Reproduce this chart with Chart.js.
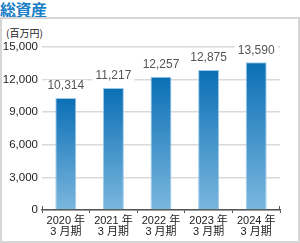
<!DOCTYPE html>
<html>
<head>
<meta charset="utf-8">
<script src="https://cdn.jsdelivr.net/npm/chart.js@4/dist/chart.umd.min.js"></script>
<style>
  html, body { margin: 0; padding: 0; background: #fff; }
  #wrap { position: relative; width: 300px; height: 243px; overflow: hidden; }
  #title {
    position: absolute; left: 0; top: -3px;
    font-family: 'Noto Sans CJK JP', sans-serif; font-weight: 700;
    font-size: 16px; color: #1a7fc6; letter-spacing: -0.5px;
  }
  #box {
    position: absolute; left: 0; top: 17px; width: 296px; height: 222px;
    border: 2px solid #d6d6d6;
  }
  #unit {
    position: absolute; left: 6px; top: 25px;
    font-family: 'Noto Sans CJK JP', sans-serif; font-size: 10px; color: #222;
  }
  canvas { position: absolute; left: 0; top: 0; }
</style>
</head>
<body>
<div id="wrap">
  <div id="title">総資産</div>
  <div id="box"></div>
  <div id="unit">(百万円)</div>
  <canvas id="chart" width="300" height="243"></canvas>
</div>
<script>
const years = ['2020 年', '2021 年', '2022 年', '2023 年', '2024 年'];
const periodLabel = '3 月期';
const totalAssets = [10314, 11217, 12257, 12875, 13590];
const yTicks = [0, 3000, 6000, 9000, 12000, 15000];

const FONT = "'Liberation Sans', 'Noto Sans CJK JP', sans-serif";

function barGradient(context) {
  const chart = context.chart;
  const { chartArea, scales } = chart;
  if (!chartArea) return '#2a86c6';
  const v = context.dataset.data[context.dataIndex];
  const top = scales.y.getPixelForValue(v);
  const g = chart.ctx.createLinearGradient(0, top, 0, chartArea.bottom);
  g.addColorStop(0, '#0b6fb5');
  g.addColorStop(1, '#7bb7de');
  return g;
}

// value labels with a white box that cuts the gridline, plus axis end caps
const valueLabels = {
  id: 'valueLabels',
  afterDatasetsDraw(chart) {
    const ctx = chart.ctx;
    const meta = chart.getDatasetMeta(0);
    ctx.save();
    ctx.font = '12px ' + FONT;
    ctx.textAlign = 'center';
    ctx.textBaseline = 'middle';
    meta.data.forEach((bar, i) => {
      const txt = totalAssets[i].toLocaleString('en-US');
      const w = ctx.measureText(txt).width;
      const y = bar.y - 12;
      ctx.fillStyle = '#fff';
      ctx.fillRect(bar.x - w / 2 - 3, y - 6, w + 6, 12);
      ctx.fillStyle = '#555';
      ctx.fillText(txt, bar.x, y);
    });
    const { left, right, bottom } = chart.chartArea;
    ctx.strokeStyle = '#555';
    ctx.lineWidth = 1;
    ctx.beginPath();
    ctx.moveTo(left + 0.5, bottom); ctx.lineTo(left + 0.5, bottom - 4);
    ctx.moveTo(right - 0.5, bottom); ctx.lineTo(right - 0.5, bottom - 4);
    ctx.stroke();
    ctx.restore();
  }
};

new Chart(document.getElementById('chart').getContext('2d'), {
  type: 'bar',
  data: {
    labels: years.map(y => [y, periodLabel]),
    datasets: [{
      data: totalAssets,
      backgroundColor: barGradient,
      borderColor: '#9ccbea',
      borderWidth: { top: 1, left: 1, right: 1, bottom: 0 },
      borderSkipped: 'bottom',
      categoryPercentage: 1,
      barPercentage: 0.44,
    }],
  },
  options: {
    responsive: false,
    animation: false,
    layout: { padding: { left: 0, right: 20, top: 47, bottom: 0 } },
    plugins: { legend: { display: false }, tooltip: { enabled: false } },
    scales: {
      y: {
        min: 0,
        max: 15000,
        afterBuildTicks: (scale) => { scale.ticks = yTicks.map(v => ({ value: v })); },
        afterFit: (scale) => { scale.width = 42; },
        border: { display: false },
        grid: { color: '#d9d9d9', lineWidth: 1.5, drawTicks: false },
        ticks: {
          padding: 4,
          color: '#222',
          font: { family: FONT, size: 11.5 },
          callback: (v) => v.toLocaleString('en-US'),
        },
      },
      x: {
        afterFit: (scale) => { scale.height = 33; },
        border: { display: true, color: '#555', width: 1.5 },
        grid: {
          offset: true,
          drawOnChartArea: false,
          drawTicks: true,
          tickLength: 3,
          color: '#555',
          lineWidth: 1,
        },
        ticks: {
          padding: 2,
          color: '#222',
          maxRotation: 0,
          font: { family: FONT, size: 11, lineHeight: 1.0 },
        },
      },
    },
  },
  plugins: [valueLabels],
});
</script>
</body>
</html>
